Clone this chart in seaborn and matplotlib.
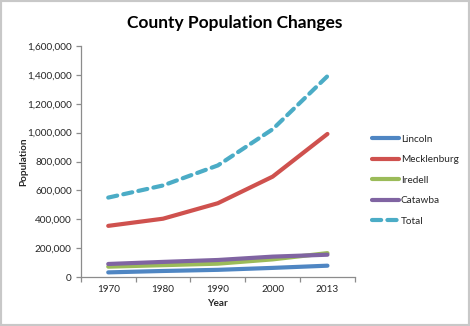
import matplotlib
matplotlib.use("Agg")
import matplotlib.pyplot as plt
from matplotlib.patches import Rectangle
from matplotlib.ticker import FuncFormatter, FixedLocator
import seaborn as sns
import pandas as pd

years = ["1970", "1980", "1990", "2000", "2013"]
lincoln = [32682, 42372, 50319, 63780, 79000]
mecklenburg = [354656, 404270, 511433, 695454, 990977]
iredell = [72197, 82538, 92931, 122660, 166000]
catawba = [90873, 105208, 118412, 141685, 155000]
total = [a + b + c + d for a, b, c, d in zip(lincoln, mecklenburg, iredell, catawba)]

series_names = ["Lincoln", "Mecklenburg", "Iredell", "Catawba", "Total"]
series_values = [lincoln, mecklenburg, iredell, catawba, total]
colors = ["#4F86C3", "#CF514E", "#9BBB59", "#8064A2", "#4BACC6"]

rows = []
for name, vals in zip(series_names, series_values):
    for i, (yr, v) in enumerate(zip(years, vals)):
        rows.append({"Year": yr, "pos": i, "County": name, "Population": v})
df = pd.DataFrame(rows)

sns.set_theme(style="white")
plt.rcParams["font.family"] = ["Lato", "DejaVu Sans"]

fig = plt.figure(figsize=(4.70, 3.26), dpi=100)
ax = fig.add_axes([0.172, 0.150, 0.583, 0.709])

sns.lineplot(
    data=df, x="pos", y="Population", hue="County", style="County",
    hue_order=series_names, style_order=series_names,
    palette=dict(zip(series_names, colors)),
    dashes={"Lincoln": "", "Mecklenburg": "", "Iredell": "", "Catawba": "",
            "Total": (2.2, 1.5)},
    linewidth=3.0, ax=ax, legend=True,
)
for line in ax.get_lines():
    line.set_solid_capstyle("round")
    line.set_dash_capstyle("round")

ax.set_xlim(-0.5, len(years) - 0.5)
ax.set_ylim(0, 1600000)
ax.set_yticks(range(0, 1600001, 200000))
ax.yaxis.set_major_formatter(FuncFormatter(lambda v, p: f"{int(v):,}"))
ax.set_xticks(range(len(years)))
ax.set_xticklabels(years)
ax.xaxis.set_minor_locator(FixedLocator([i - 0.5 for i in range(len(years) + 1)]))

for side in ["top", "right"]:
    ax.spines[side].set_visible(False)
for side in ["left", "bottom"]:
    ax.spines[side].set_color("#8C8C8C")
    ax.spines[side].set_linewidth(0.9)

ax.tick_params(axis="y", which="major", length=3.5, width=0.9, color="#8C8C8C",
               labelsize=7.2, pad=3, direction="out", left=True)
ax.tick_params(axis="x", which="major", length=0, labelsize=7.2, pad=6, bottom=True)
ax.tick_params(axis="x", which="minor", length=3.5, width=0.9, color="#8C8C8C",
               direction="out", bottom=True)

ax.set_xlabel("Year", fontsize=7.2, fontweight="bold", labelpad=3)
ax.set_ylabel("Population", fontsize=7.2, fontweight="bold", labelpad=-1)

fig.text(0.5, 0.928, "County Population Changes", ha="center", va="center",
         fontsize=12.5, fontweight="bold", color="black")

handles, labels = ax.get_legend_handles_labels()
leg = ax.legend(handles, labels, loc="center left", bbox_to_anchor=(1.062, 0.42),
                frameon=False, fontsize=7.2, handlelength=2.7, handletextpad=0.2,
                labelspacing=1.15, borderaxespad=0, borderpad=0)
for h in leg.get_lines():
    h.set_linewidth(3.0)
    h.set_solid_capstyle("round")
    h.set_dash_capstyle("round")

fig.patches.append(Rectangle((0, 0), 1, 1, transform=fig.transFigure, fill=False,
                             edgecolor="#C8C8C8", linewidth=3.0, zorder=10))

fig.savefig("out.png", dpi=100)
